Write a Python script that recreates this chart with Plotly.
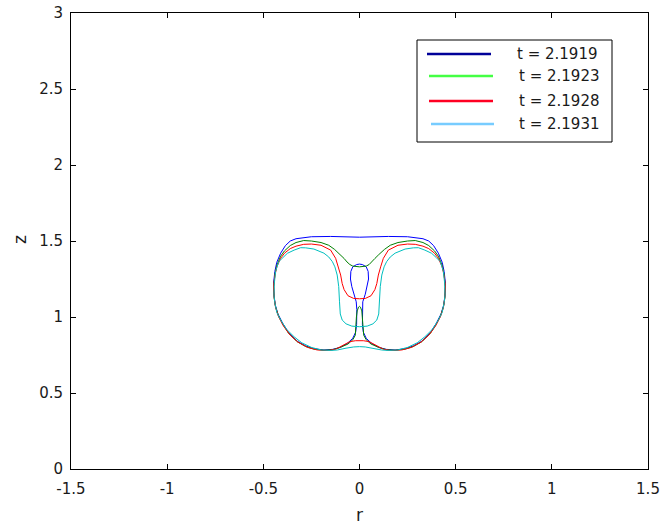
import numpy as np
import plotly.graph_objects as go

# ---- data: right halves (r >= 0) of each axisymmetric interface, (r, z) ----
times = ["2.1919", "2.1923", "2.1928", "2.1931"]

r_1919 = [0, 0.05, 0.15, 0.25, 0.33, 0.36, 0.385, 0.41, 0.43, 0.44, 0.447, 0.445, 0.438, 0.424,
          0.40, 0.37, 0.323, 0.28, 0.24, 0.185, 0.14, 0.10, 0.063, 0.035, 0.02, 0.015, 0.014,
          0.017, 0.03, 0.04, 0.047, 0.045, 0.035, 0.015, 0]
z_1919 = [1.525, 1.527, 1.53, 1.528, 1.515, 1.50, 1.47, 1.42, 1.36, 1.30, 1.22, 1.15, 1.08, 1.02,
          0.96, 0.90, 0.84, 0.81, 0.792, 0.783, 0.787, 0.80, 0.826, 0.86, 0.90, 0.95, 1.05,
          1.10, 1.15, 1.20, 1.25, 1.30, 1.33, 1.345, 1.348]

r_1923 = [0, 0.02, 0.035, 0.05, 0.065, 0.08, 0.10, 0.13, 0.16, 0.20, 0.25, 0.29, 0.33, 0.36,
          0.39, 0.41, 0.43, 0.44, 0.446, 0.444, 0.437, 0.422, 0.40, 0.37, 0.325, 0.28, 0.24,
          0.185, 0.14, 0.10, 0.06, 0.035, 0.022, 0.018, 0.016, 0.012, 0.005, 0]
z_1923 = [1.33, 1.331, 1.335, 1.345, 1.362, 1.385, 1.41, 1.445, 1.472, 1.49, 1.50, 1.503, 1.49,
          1.47, 1.435, 1.40, 1.34, 1.28, 1.20, 1.13, 1.07, 1.01, 0.955, 0.895, 0.838, 0.806,
          0.79, 0.781, 0.785, 0.80, 0.822, 0.85, 0.88, 0.93, 1.00, 1.04, 1.065, 1.07]

r_1928 = [0, 0.03, 0.06, 0.08, 0.09, 0.098, 0.11, 0.124, 0.15, 0.20, 0.25, 0.29, 0.33, 0.36,
          0.39, 0.41, 0.43, 0.44, 0.447, 0.444, 0.436, 0.42, 0.395, 0.36, 0.32, 0.27, 0.22,
          0.16, 0.124, 0.081, 0.05, 0.02, 0]
z_1928 = [1.12, 1.122, 1.14, 1.18, 1.22, 1.276, 1.33, 1.386, 1.44, 1.472, 1.48, 1.478, 1.466,
          1.45, 1.42, 1.386, 1.33, 1.27, 1.20, 1.13, 1.06, 1.00, 0.94, 0.88, 0.835, 0.80,
          0.783, 0.78, 0.788, 0.816, 0.838, 0.844, 0.845]

r_1931 = [0, 0.04, 0.07, 0.09, 0.10, 0.104, 0.108, 0.116, 0.128, 0.141, 0.16, 0.185, 0.237,
          0.28, 0.306, 0.34, 0.375, 0.40, 0.42, 0.436, 0.443, 0.445, 0.441, 0.43, 0.41, 0.38,
          0.34, 0.30, 0.25, 0.20, 0.15, 0.115, 0.07, 0.03, 0]
z_1931 = [0.936, 0.94, 0.955, 0.98, 1.02, 1.10, 1.20, 1.276, 1.33, 1.364, 1.395, 1.42, 1.447,
          1.455, 1.456, 1.44, 1.419, 1.39, 1.364, 1.30, 1.22, 1.15, 1.10, 1.03, 0.98, 0.92,
          0.87, 0.83, 0.80, 0.783, 0.78, 0.783, 0.795, 0.803, 0.805]

curves_r = [r_1919, r_1923, r_1928, r_1931]
curves_z = [z_1919, z_1923, z_1928, z_1931]

x_ticks = [-1.5, -1, -0.5, 0, 0.5, 1, 1.5]
x_ticktext = ["-1.5", "-1", "-0.5", "0", "0.5", "1", "1.5"]
y_ticks = [0, 0.5, 1, 1.5, 2, 2.5, 3]
y_ticktext = ["0", "0.5", "1", "1.5", "2", "2.5", "3"]

# ---- styles ----
plot_colors = ["#0000FF", "#008000", "#FF0000", "#00BFBF"]
legend_colors = ["#000099", "#44FF44", "#FF0022", "#77CCFF"]
FONT = "DejaVu Sans, Liberation Sans, Arial, sans-serif"
TXT = "#1a1a1a"

W, H = 663, 529
L, R, T, B = 71, 648, 13, 469


def px(x):
    return (x - L) / (R - L)


def py(y):
    return (B - y) / (B - T)


fig = go.Figure()
for rr, zz, col in zip(curves_r, curves_z, plot_colors):
    rr = np.asarray(rr, float)
    zz = np.asarray(zz, float)
    full_r = np.concatenate([rr, -rr[::-1]])
    full_z = np.concatenate([zz, zz[::-1]])
    fig.add_trace(go.Scatter(x=full_r, y=full_z, mode="lines",
                             line=dict(color=col, width=1), showlegend=False,
                             hoverinfo="skip"))

# ---- legend drawn manually (MATLAB style box) ----
shapes = [dict(type="rect", xref="paper", yref="paper",
               x0=px(417), x1=px(612), y0=py(142), y1=py(40),
               line=dict(color="#000000", width=1), fillcolor="white", layer="above")]
annotations = []
leg_y = [54, 76, 101, 124]
leg_x0 = [427, 429, 429, 431]
leg_x1 = [491, 493, 493, 494]
txt_x = [515, 517, 517, 517]
for i, t in enumerate(times):
    shapes.append(dict(type="line", xref="paper", yref="paper",
                       x0=px(leg_x0[i]), x1=px(leg_x1[i]), y0=py(leg_y[i]), y1=py(leg_y[i]),
                       line=dict(color=legend_colors[i], width=2.5), layer="above"))
    annotations.append(dict(xref="paper", yref="paper", x=px(txt_x[i]), y=py(leg_y[i]),
                            text=f"t = {t}", showarrow=False, xanchor="left", yanchor="middle",
                            font=dict(family=FONT, size=15, color=TXT)))

annotations.append(dict(xref="paper", yref="paper", x=px(359.5), y=py(515), text="r",
                        showarrow=False, xanchor="center", yanchor="middle",
                        font=dict(family=FONT, size=17, color=TXT)))
annotations.append(dict(xref="paper", yref="paper", x=px(20), y=py(240), text="z",
                        showarrow=False, xanchor="center", yanchor="middle", textangle=-90,
                        font=dict(family=FONT, size=17, color=TXT)))

axis_common = dict(showgrid=False, zeroline=False, showline=True, linecolor="#000000",
                   linewidth=1, mirror="ticks", ticks="inside", ticklen=5, automargin=False,
                   tickcolor="#000000", tickfont=dict(family=FONT, size=15, color=TXT))

fig.update_layout(
    width=W, height=H, autosize=False,
    margin=dict(l=L, r=W - R, t=T, b=H - B, pad=0, autoexpand=False),
    paper_bgcolor="white", plot_bgcolor="white",
    xaxis=dict(range=[-1.5, 1.5], tickvals=x_ticks, ticktext=x_ticktext,
               ticklabelstandoff=6, **axis_common),
    yaxis=dict(range=[0, 3], tickvals=y_ticks, ticktext=y_ticktext,
               ticklabelstandoff=4, **axis_common),
    shapes=shapes, annotations=annotations, showlegend=False,
)

fig.write_html("out.html", config={"displayModeBar": False},
               post_script="document.body.style.margin='0';document.body.style.padding='0';"
                           "document.documentElement.style.overflow='hidden';")
